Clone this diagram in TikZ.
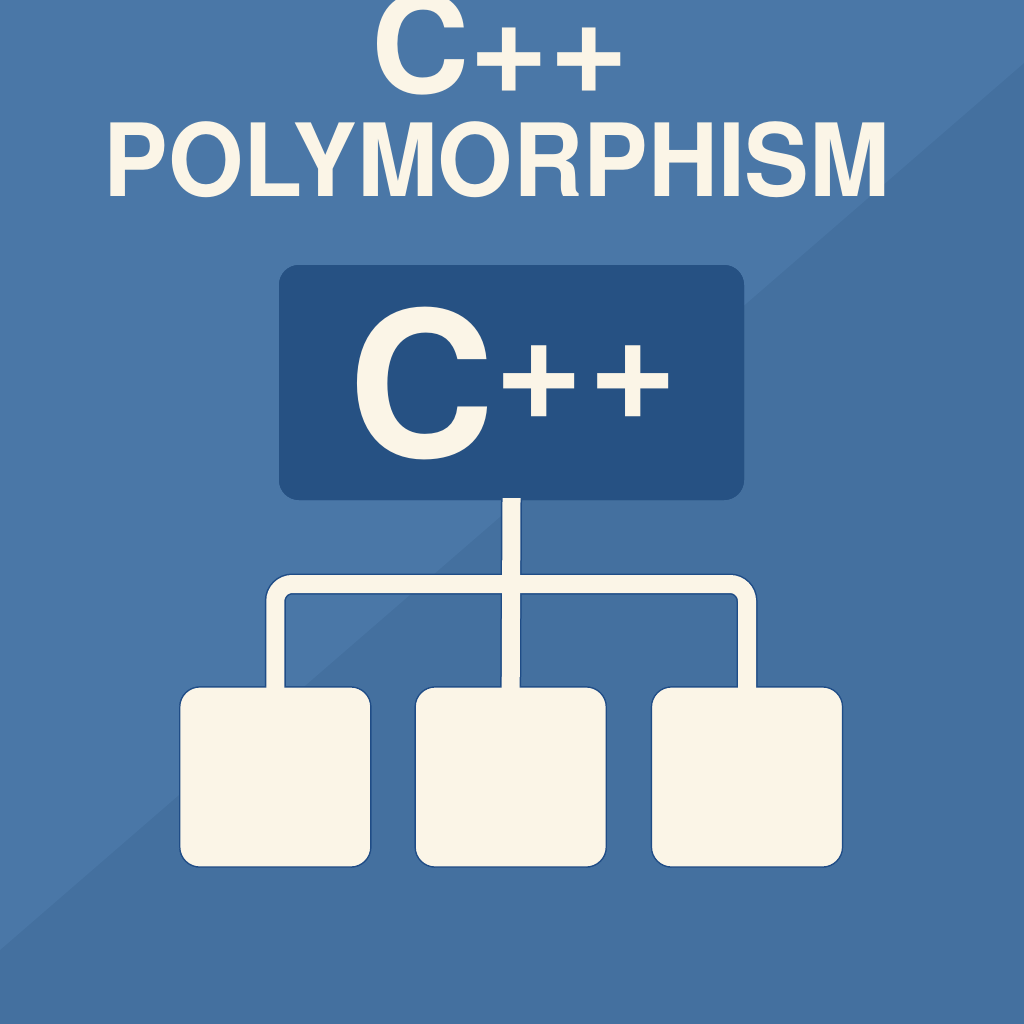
\documentclass[tikz,border=0pt]{standalone}
\usepackage{fontspec}
\setmainfont{TeX Gyre Heros}

\definecolor{bglight}{HTML}{4A77A7}
\definecolor{bgdark}{HTML}{44709F}
\definecolor{navy}{HTML}{265183}
\definecolor{cream}{HTML}{FBF5E7}
\definecolor{rim}{HTML}{1F4C86}

\tikzset{
  parentbox/.style={draw=none, fill=navy, rounded corners=20pt,
    minimum width=465pt, minimum height=235pt, inner sep=0pt},
  childbox/.style={draw=rim, line width=1.2pt, fill=cream, rounded corners=20pt,
    minimum width=191pt, minimum height=180pt, inner sep=0pt},
  linkrim/.style={draw=rim, line width=21pt, rounded corners=17pt},
  linkfill/.style={draw=cream, line width=18pt, rounded corners=17pt,
    shorten <=-2pt, shorten >=-2pt},
  titletext/.style={text=cream, font=\bfseries, inner sep=0pt, anchor=base},
}

\begin{document}
\begin{tikzpicture}[x=1pt, y=-1pt]
  \useasboundingbox (0,0) rectangle (1024,1024);

  % background with a lighter upper-left half
  \fill[bgdark] (0,0) rectangle (1024,1024);
  \fill[bglight] (0,0) -- (1024,0) -- (1024,63) -- (0,950) -- cycle;

  % title
  \node[titletext] (title1) at (500,94) {\fontsize{136}{136}\selectfont C++};
  \node[titletext] (title2) at (497,197)
    {\scalebox{0.96}[1]{\fontsize{101}{101}\selectfont POLYMORPHISM}};

  % tree nodes
  \node[parentbox] (base) at (511.5,382.5) {};
  \node[childbox] (c1) at (275.3,777) {};
  \node[childbox] (c2) at (510.7,777) {};
  \node[childbox] (c3) at (747,777) {};
  \coordinate (bar) at (511,584);

  % connector outline, drawn under the boxes
  \path[linkrim] (base.south) -- (c2.north);
  \path[linkrim] (c1.north) |- (bar) -| (c3.north);

  % redraw the boxes over the connector outline
  \node[parentbox] at (base.center) {};
  \node[childbox] at (c1.center) {};
  \node[childbox] at (c2.center) {};
  \node[childbox] at (c3.center) {};

  % connector body
  \draw[linkfill] (base.south) -- (c2.north);
  \draw[linkfill] (c1.north) |- (bar) -| (c3.north);

  % label of the base box
  \node[titletext] (cpp) at (513,457)
    {\fontsize{203}{203}\selectfont C\raisebox{38pt}{\fontsize{153}{153}\selectfont +\kern4pt+}};
\end{tikzpicture}
\end{document}
